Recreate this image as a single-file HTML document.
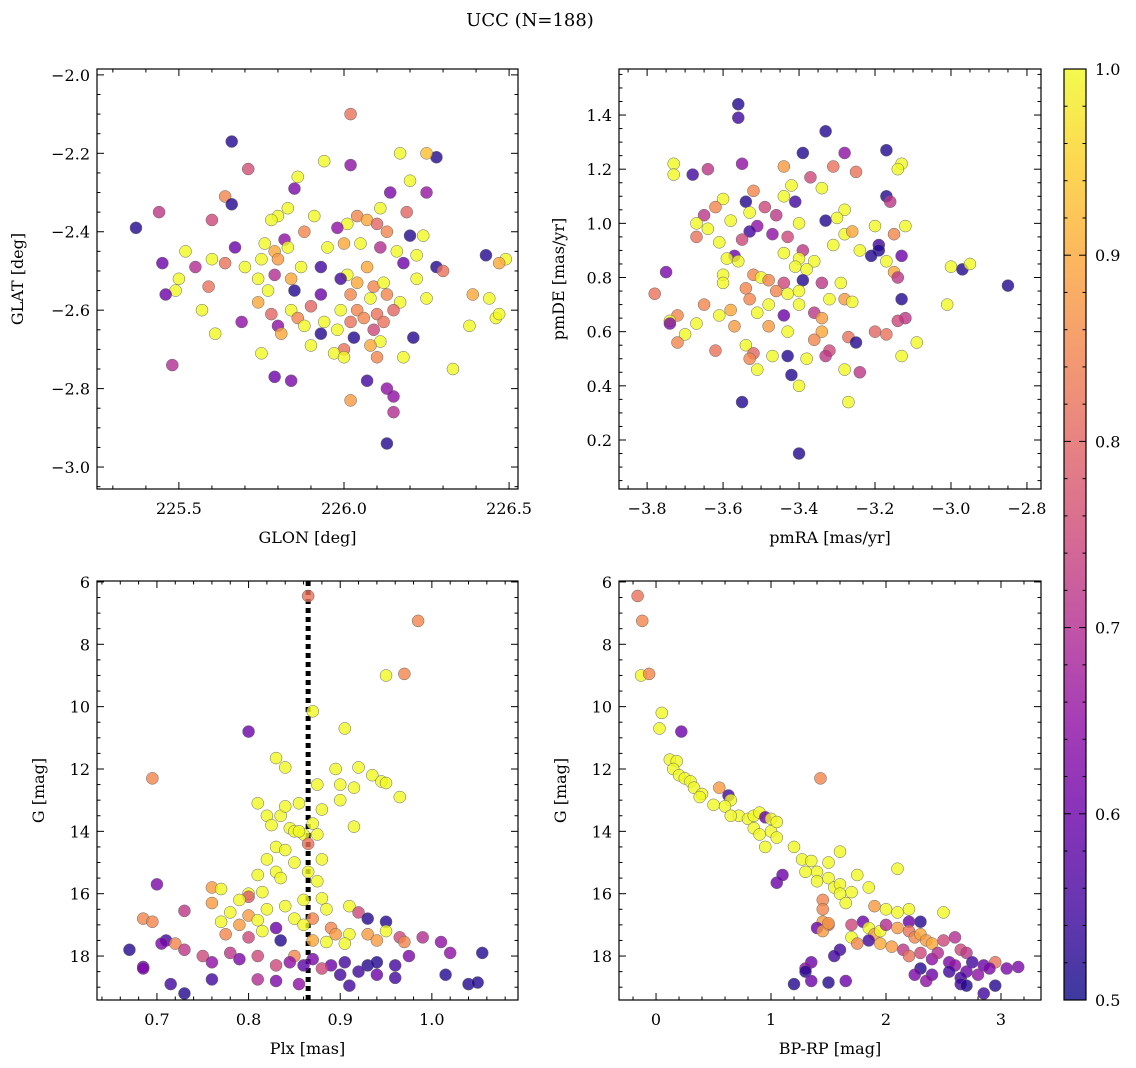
<!DOCTYPE html>
<html><head><meta charset="utf-8">
<style>
body{margin:0;background:#fff;}
svg{display:block;font-family:"DejaVu Serif","Liberation Serif",serif;}
</style></head>
<body>
<svg id="fig" width="1136" height="1068" viewBox="0 0 1136 1068" xmlns="http://www.w3.org/2000/svg">
<defs>
<linearGradient id="cbgrad" x1="0" y1="1" x2="0" y2="0">
<stop offset="0" stop-color="#0d0887"/><stop offset="0.1" stop-color="#41049d"/><stop offset="0.2" stop-color="#6a00a8"/><stop offset="0.3" stop-color="#8f0da4"/><stop offset="0.4" stop-color="#b12a90"/><stop offset="0.5" stop-color="#cc4778"/><stop offset="0.6" stop-color="#e16462"/><stop offset="0.7" stop-color="#f2844b"/><stop offset="0.8" stop-color="#fca636"/><stop offset="0.9" stop-color="#fcce25"/><stop offset="1" stop-color="#f0f921"/>
</linearGradient>
</defs>
<text x="530" y="26" font-size="18" text-anchor="middle">UCC (N=188)</text>
</svg>
<script>
// ---- data ----
const tlGlon=[226.02,225.66,226.28,226.25,226.17,225.94,226.02,225.71,225.86,226.20,225.85,226.14,226.25,225.64,225.66,225.44,225.83,225.80,225.78,225.91,226.11,226.19,225.60,225.37,226.01,226.04,226.07,226.10,225.98,226.13,226.20,226.24,225.88,225.82,225.76,225.67,225.52,225.79,225.83,225.95,226.00,226.05,226.11,226.16,226.22,226.43,226.49,226.47,225.60,225.45,225.55,225.64,225.70,225.75,225.80,225.87,225.93,226.01,226.07,226.18,226.28,226.30,225.50,225.74,225.79,225.84,225.99,226.04,226.09,226.12,226.22,225.49,225.46,225.59,225.77,225.85,225.93,226.02,226.08,226.13,226.17,226.25,226.39,226.44,225.74,225.84,225.90,225.99,226.04,226.10,226.15,225.57,225.78,225.86,225.94,226.02,226.06,226.12,226.46,226.47,225.69,225.80,225.88,225.98,226.09,226.38,225.61,225.81,225.93,226.03,226.11,226.21,225.90,226.00,226.08,225.97,226.00,226.10,226.18,225.75,225.48,226.33,225.79,225.84,226.07,226.13,226.15,226.02,226.15,226.13];
const tlGlat=[-2.10,-2.17,-2.21,-2.20,-2.20,-2.22,-2.23,-2.24,-2.26,-2.27,-2.29,-2.30,-2.30,-2.31,-2.33,-2.35,-2.34,-2.36,-2.37,-2.36,-2.34,-2.35,-2.37,-2.39,-2.38,-2.36,-2.37,-2.38,-2.39,-2.40,-2.41,-2.41,-2.40,-2.42,-2.43,-2.44,-2.45,-2.45,-2.44,-2.44,-2.43,-2.43,-2.44,-2.45,-2.46,-2.46,-2.47,-2.48,-2.47,-2.48,-2.49,-2.48,-2.49,-2.47,-2.47,-2.49,-2.49,-2.51,-2.49,-2.48,-2.49,-2.50,-2.52,-2.52,-2.51,-2.52,-2.52,-2.53,-2.54,-2.53,-2.52,-2.55,-2.56,-2.54,-2.55,-2.55,-2.56,-2.56,-2.57,-2.56,-2.58,-2.57,-2.56,-2.57,-2.58,-2.60,-2.59,-2.60,-2.60,-2.61,-2.60,-2.60,-2.61,-2.62,-2.63,-2.63,-2.62,-2.63,-2.62,-2.61,-2.63,-2.64,-2.64,-2.65,-2.65,-2.64,-2.66,-2.66,-2.66,-2.67,-2.68,-2.67,-2.69,-2.70,-2.69,-2.71,-2.72,-2.72,-2.72,-2.71,-2.74,-2.75,-2.77,-2.78,-2.78,-2.80,-2.82,-2.83,-2.86,-2.94];
const tlProb=[0.82,0.52,0.52,0.93,1,1,0.65,0.76,1,1,0.62,0.62,0.66,0.85,0.52,0.72,1,1,1,1,1,0.8,0.75,0.52,1,0.85,0.9,0.8,0.65,0.85,0.52,1,0.85,0.65,1,0.6,1,0.9,1,1,0.9,1,0.7,1,1,0.52,1,0.9,1,0.6,0.7,0.82,1,1,0.88,1,0.55,1,0.9,0.6,0.52,0.82,1,1,0.7,0.9,0.55,0.9,0.85,1,1,1,0.6,0.82,1,0.52,0.6,0.85,1,0.85,1,1,0.9,1,0.9,1,0.8,1,0.85,0.82,0.8,1,0.8,0.85,1,0.82,0.85,0.82,1,1,0.65,0.65,1,1,0.75,1,1,0.9,0.52,0.52,1,0.52,1,0.82,0.9,1,1,0.85,1,1,0.7,1,0.6,0.62,0.55,0.65,0.65,0.88,0.7,0.52];

const trPmra=[-3.56,-3.56,-3.33,-3.17,-3.28,-3.39,-3.73,-3.64,-3.55,-3.44,-3.31,-3.13,-3.14,-3.68,-3.73,-3.25,-3.37,-3.42,-3.52,-3.34,-3.17,-3.16,-3.44,-3.41,-3.60,-3.54,-3.49,-3.28,-3.62,-3.65,-3.53,-3.58,-3.46,-3.33,-3.30,-3.40,-3.67,-3.64,-3.51,-3.20,-3.12,-3.53,-3.47,-3.28,-3.15,-3.26,-3.67,-3.61,-3.55,-3.43,-3.31,-3.19,-3.19,-3.24,-3.39,-3.44,-3.57,-3.59,-3.40,-3.36,-3.21,-3.13,-3.17,-3.56,-3.41,-3.38,-3.15,-3.14,-3.75,-3.60,-3.52,-3.50,-3.48,-3.44,-3.39,-3.34,-3.29,-3.00,-2.97,-2.95,-2.85,-3.78,-3.60,-3.54,-3.46,-3.43,-3.40,-3.32,-3.28,-3.26,-3.13,-3.53,-3.48,-3.40,-3.72,-3.74,-3.74,-3.65,-3.58,-3.61,-3.51,-3.44,-3.36,-3.34,-3.14,-3.12,-3.01,-3.70,-3.67,-3.57,-3.48,-3.43,-3.34,-3.27,-3.20,-3.17,-3.09,-3.72,-3.54,-3.52,-3.36,-3.32,-3.25,-3.62,-3.53,-3.47,-3.43,-3.38,-3.33,-3.13,-3.51,-3.28,-3.24,-3.42,-3.40,-3.55,-3.27,-3.40];
const trPmde=[1.44,1.39,1.34,1.27,1.26,1.26,1.22,1.20,1.22,1.21,1.21,1.22,1.20,1.18,1.18,1.19,1.17,1.14,1.12,1.13,1.10,1.08,1.10,1.08,1.09,1.08,1.06,1.05,1.06,1.03,1.04,1.01,1.03,1.01,1.02,1.00,1.00,0.98,0.99,0.99,0.99,0.97,0.96,0.96,0.96,0.97,0.95,0.93,0.94,0.95,0.92,0.92,0.90,0.90,0.90,0.89,0.88,0.87,0.87,0.86,0.88,0.88,0.86,0.86,0.84,0.83,0.82,0.80,0.82,0.81,0.81,0.80,0.79,0.78,0.79,0.78,0.78,0.84,0.83,0.85,0.77,0.74,0.78,0.76,0.75,0.74,0.75,0.72,0.72,0.71,0.72,0.72,0.70,0.70,0.66,0.64,0.63,0.70,0.68,0.66,0.67,0.66,0.67,0.65,0.64,0.65,0.70,0.59,0.63,0.62,0.62,0.60,0.60,0.58,0.60,0.59,0.56,0.56,0.55,0.52,0.57,0.53,0.56,0.53,0.50,0.51,0.51,0.50,0.51,0.51,0.46,0.46,0.45,0.44,0.40,0.34,0.34,0.15];
const trProb=[0.52,0.55,0.52,0.52,0.65,0.52,1,0.72,0.65,0.88,0.82,1,1,0.55,1,0.82,0.75,1,0.85,1,0.52,0.72,1,0.55,1,0.52,0.75,1,0.85,0.72,1,1,0.72,0.52,1,1,1,1,0.65,1,1,0.55,0.65,1,0.85,0.9,0.82,1,0.75,0.75,1,0.55,0.52,1,0.72,1,0.6,1,1,1,0.52,0.6,1,1,1,1,0.9,0.72,0.62,1,0.85,1,0.85,0.75,0.52,0.72,1,1,0.52,1,0.52,0.82,1,0.85,0.85,1,1,1,0.88,1,0.52,0.85,1,1,0.85,1,0.62,0.85,0.9,1,1,0.6,0.72,0.88,0.75,0.72,1,1,1,0.88,0.88,1,0.9,0.82,0.8,0.82,1,0.85,1,0.8,0.85,0.75,0.52,0.82,0.85,1,0.52,1,0.72,1,1,1,0.72,0.52,1,0.52,1,0.52];

const blPlx=[0.865,0.985,0.970,0.950,0.870,0.800,0.905,0.830,0.840,0.695,0.895,0.875,0.900,0.915,0.935,0.945,0.950,0.920,0.965,0.900,0.880,0.855,0.810,0.820,0.835,0.845,0.870,0.840,0.915,0.825,0.850,0.860,0.865,0.830,0.855,0.875,0.880,0.840,0.820,0.850,0.830,0.810,0.865,0.875,0.835,0.760,0.770,0.800,0.815,0.860,0.880,0.700,0.800,0.790,0.760,0.820,0.840,0.885,0.910,0.920,0.780,0.800,0.850,0.870,0.730,0.685,0.695,0.770,0.790,0.810,0.830,0.860,0.890,0.930,0.950,0.910,0.930,0.965,0.895,0.775,0.800,0.815,0.835,0.870,0.885,0.905,0.940,0.950,0.970,0.990,1.010,0.710,0.720,0.705,0.730,0.780,0.790,0.810,0.850,0.870,0.890,0.905,0.930,0.940,0.960,0.975,1.020,1.055,0.670,0.685,0.685,0.750,0.760,0.830,0.845,0.860,0.880,0.920,0.940,0.960,1.015,0.760,0.810,0.830,0.900,0.910,0.715,0.730,1.040,1.050,0.855];
const blG=[6.45,7.25,8.95,9.0,10.15,10.8,10.7,11.65,11.95,12.3,12.0,12.5,12.5,12.6,12.2,12.4,12.45,11.95,12.9,13.0,13.3,13.1,13.1,13.5,13.5,13.9,13.75,13.2,13.85,13.8,14.0,14.1,14.4,14.5,14.0,14.1,14.9,14.6,14.9,15.0,15.3,15.4,15.3,15.6,15.5,15.8,15.85,16.0,15.95,16.2,16.15,15.7,16.1,16.2,16.3,16.5,16.4,16.5,16.4,16.6,16.6,16.7,16.8,16.8,16.55,16.8,16.9,16.9,17.0,16.85,17.1,17.0,17.1,16.8,16.9,17.3,17.3,17.4,17.3,17.3,17.4,17.2,17.5,17.5,17.55,17.6,17.5,17.2,17.55,17.4,17.55,17.5,17.6,17.6,17.8,17.9,18.1,18.0,18.0,18.1,18.3,18.2,18.3,18.2,18.3,18.0,17.9,17.9,17.8,18.35,18.4,18.0,18.2,18.3,18.2,18.3,18.4,18.5,18.6,18.7,18.6,18.75,18.75,18.8,18.6,18.95,18.9,19.2,18.9,18.85,18.9];
const blProb=[0.82,0.85,0.85,1,1,0.6,1,1,1,0.85,1,1,1,1,1,1,1,1,1,1,1,1,1,1,1,1,1,1,1,1,1,1,0.82,1,1,1,1,1,1,1,1,1,1,1,1,0.88,1,1,1,1,1,0.62,0.78,1,0.88,1,1,1,1,0.75,1,0.88,1,0.85,0.72,0.85,0.85,1,0.88,1,0.6,1,0.85,0.52,0.52,1,0.88,0.75,0.88,0.85,0.75,1,0.52,0.9,1,1,0.88,1,0.85,0.7,0.65,0.55,0.85,0.62,0.72,0.72,0.62,0.75,0.85,0.62,0.6,0.55,0.52,0.52,0.55,0.62,0.65,0.52,0.52,0.62,0.62,0.75,0.65,0.75,0.65,0.58,0.75,0.55,0.6,0.55,0.52,0.55,0.7,0.62,0.55,0.55,0.55,0.52,0.52,0.52,0.65];

const brBprp=[-0.16,-0.12,-0.13,-0.06,0.05,0.03,0.22,0.12,0.18,0.15,0.20,0.25,0.30,0.33,0.40,0.38,0.55,0.50,0.63,0.65,0.60,0.72,0.65,0.80,0.85,0.90,0.95,1.00,0.85,0.90,1.00,1.05,0.95,1.43,1.05,1.20,1.27,1.35,1.40,1.60,1.50,1.30,1.40,1.50,1.55,1.60,1.70,1.75,1.85,2.10,1.05,1.10,1.45,1.45,1.60,1.65,1.90,2.00,2.10,2.20,2.30,2.20,2.50,1.45,1.40,1.50,1.70,1.80,1.85,1.90,1.95,2.00,2.10,2.20,2.25,2.30,2.35,2.40,2.50,2.60,2.65,2.70,1.70,1.75,1.85,1.95,2.05,2.15,2.20,2.30,2.40,2.45,2.55,2.60,2.75,2.85,2.95,3.05,3.15,2.90,2.80,2.70,2.55,2.40,2.30,2.25,2.35,2.65,2.65,2.70,2.95,2.85,1.60,1.55,1.35,1.30,1.30,1.65,1.50,1.35,1.20,1.45,1.50];
const brG=[6.45,7.25,9.0,8.95,10.2,10.7,10.8,11.7,11.75,12.0,12.2,12.3,12.4,12.6,12.8,12.9,12.6,13.15,12.85,13.0,13.2,13.5,13.5,13.6,13.5,13.4,13.55,13.6,13.9,14.1,14.0,14.2,14.5,12.3,13.7,14.5,14.9,14.95,15.3,14.65,15.0,15.3,15.6,15.5,15.8,15.7,15.95,15.4,15.8,15.2,15.65,15.4,16.2,16.5,16.0,16.3,16.4,16.5,16.6,16.5,16.9,16.9,16.6,16.9,17.1,17.0,17.0,16.9,17.1,17.3,17.2,17.0,17.1,17.2,17.4,17.3,17.5,17.6,17.5,17.4,17.8,17.9,17.4,17.6,17.5,17.6,17.7,17.8,18.0,17.9,18.1,17.9,18.2,18.3,18.2,18.3,18.2,18.4,18.35,18.4,18.6,18.5,18.5,18.6,18.4,18.6,18.8,18.7,18.9,18.95,18.95,19.2,17.8,18.0,18.2,18.4,18.5,18.8,18.85,18.8,18.9,17.2,16.95];
const brProb=[0.82,0.85,1,0.85,1,1,0.6,1,1,1,1,1,1,1,1,1,0.88,1,0.55,1,1,1,1,1,1,1,0.6,1,1,1,1,1,1,0.85,1,1,1,1,1,1,1,1,1,1,1,1,1,1,1,1,0.6,0.6,0.85,0.85,1,1,0.88,1,1,1,0.52,0.6,1,0.88,0.6,0.8,0.75,0.6,1,0.88,1,0.7,0.88,0.82,0.85,0.9,0.88,0.9,0.75,0.7,0.75,0.72,1,0.85,0.55,0.9,0.88,0.72,0.82,0.75,0.65,0.7,0.62,0.65,0.55,0.6,0.82,0.62,0.62,0.62,0.65,0.6,0.55,0.6,0.52,0.62,0.65,0.55,0.55,0.52,0.52,0.55,0.55,0.55,0.6,0.65,0.52,0.6,0.52,0.6,0.52,0.88,0.88];

const cbTicks=[0.5,0.6,0.7,0.8,0.9,1.0];
const plxLine=0.865;

// ---- rendering ----
const NS="http://www.w3.org/2000/svg";
const svg=document.getElementById('fig');
function mk(tag,attrs,parent){const e=document.createElementNS(NS,tag);for(const k in attrs)e.setAttribute(k,attrs[k]);(parent||svg).appendChild(e);return e;}
const stops=["#0d0887","#41049d","#6a00a8","#8f0da4","#b12a90","#cc4778","#e16462","#f2844b","#fca636","#fcce25","#f0f921"];
function hex(h){return [parseInt(h.substr(1,2),16),parseInt(h.substr(3,2),16),parseInt(h.substr(5,2),16)];}
function cmap(p){let t=Math.max(0,Math.min(1,(p-0.5)/0.5))*10;const i=Math.min(9,Math.floor(t));const f=t-i;const a=hex(stops[i]),b=hex(stops[i+1]);return 'rgb('+a.map((v,k)=>Math.round(v+(b[k]-v)*f)).join(',')+')';}
function fmt(v,d){const s=Math.abs(v).toFixed(d);return (v<-1e-9?'\u2212':'')+s;}

function panel(cfg){
  const g=mk('g',{});
  
  
  const {x0,x1,y0,y1,xmin,xmax,ymin,ymax,invY}=cfg;
  const sx=v=>x0+(v-xmin)/(xmax-xmin)*(x1-x0);
  const sy=v=>invY? y0+(v-ymin)/(ymax-ymin)*(y1-y0) : y1-(v-ymin)/(ymax-ymin)*(y1-y0);
  const clip='clip-'+cfg.name;
  const cp=mk('clipPath',{id:clip},g);mk('rect',{x:x0,y:y0,width:x1-x0,height:y1-y0},cp);
  const pts=mk('g',{'clip-path':'url(#'+clip+')'},g);
  if(cfg.vline!==undefined){
    const l=mk('line',{x1:sx(cfg.vline),x2:sx(cfg.vline),y1:y0,y2:y1,stroke:'#000','stroke-width':5,'stroke-dasharray':'5,4'},pts);
    
    
  }
  for(let i=0;i<cfg.xs.length;i++){
    const c=mk('circle',{cx:sx(cfg.xs[i]),cy:sy(cfg.ys[i]),r:6,fill:cmap(cfg.ps[i]),'fill-opacity':0.8,stroke:'#666','stroke-width':0.5},pts);
    
    
  }
  mk('rect',{x:x0,y:y0,width:x1-x0,height:y1-y0,fill:'none',stroke:'#000','stroke-width':1.2},g);
  const eps=1e-9;
  for(let v=Math.ceil(xmin/cfg.xmin_step-eps)*cfg.xmin_step;v<=xmax+eps;v+=cfg.xmin_step){
    const X=sx(v);const major=Math.abs(v/cfg.xstep-Math.round(v/cfg.xstep))<1e-6;const L=major?7:3.5;
    mk('line',{x1:X,x2:X,y1:y1,y2:y1-L,stroke:'#000','stroke-width':1},g);
    mk('line',{x1:X,x2:X,y1:y0,y2:y0+L,stroke:'#000','stroke-width':1},g);
    if(major){const t=mk('text',{x:X,y:y1+25,'font-size':16,'text-anchor':'middle'},g);t.textContent=fmt(v,cfg.xd);
      }
  }
  for(let v=Math.ceil(ymin/cfg.ymin_step-eps)*cfg.ymin_step;v<=ymax+eps;v+=cfg.ymin_step){
    const Y=sy(v);const major=Math.abs(v/cfg.ystep-Math.round(v/cfg.ystep))<1e-6;const L=major?7:3.5;
    mk('line',{x1:x0,x2:x0+L,y1:Y,y2:Y,stroke:'#000','stroke-width':1},g);
    mk('line',{x1:x1,x2:x1-L,y1:Y,y2:Y,stroke:'#000','stroke-width':1},g);
    if(major){const t=mk('text',{x:x0-7,y:Y+6,'font-size':16,'text-anchor':'end'},g);t.textContent=fmt(v,cfg.yd);
      }
  }
  const xl=mk('text',{x:(x0+x1)/2,y:y1+54,'font-size':16,'text-anchor':'middle'},g);xl.textContent=cfg.xlabel;
  
  const yx=cfg.ylx, yy=(y0+y1)/2;
  const yl=mk('text',{x:yx,y:yy,'font-size':16,'text-anchor':'middle',transform:'rotate(-90 '+yx+' '+yy+')'},g);yl.textContent=cfg.ylabel;
  
}

panel({name:'glon-glat-panel',x0:97,x1:518,y0:69,y1:489,xmin:225.252,xmax:226.527,ymin:-3.056,ymax:-1.985,xstep:0.5,xmin_step:0.1,ystep:0.2,ymin_step:0.05,xd:1,yd:1,xs:tlGlon,ys:tlGlat,ps:tlProb,xlabel:'GLON [deg]',ylabel:'GLAT [deg]',ylx:23});
panel({name:'proper-motion-panel',x0:619,x1:1041,y0:69,y1:489,xmin:-3.874,xmax:-2.763,ymin:0.019,ymax:1.570,xstep:0.2,xmin_step:0.05,ystep:0.2,ymin_step:0.05,xd:1,yd:1,xs:trPmra,ys:trPmde,ps:trProb,xlabel:'pmRA [mas/yr]',ylabel:'pmDE [mas/yr]',ylx:564});
panel({name:'parallax-magnitude-panel',x0:97,x1:518,y0:581,y1:1000,xmin:0.6346,xmax:1.094,ymin:5.97,ymax:19.41,invY:true,xstep:0.1,xmin_step:0.02,ystep:2,ymin_step:0.5,xd:1,yd:0,xs:blPlx,ys:blG,ps:blProb,vline:plxLine,xlabel:'Plx [mas]',ylabel:'G [mag]',ylx:44});
panel({name:'color-magnitude-panel',x0:619,x1:1041,y0:581,y1:1000,xmin:-0.322,xmax:3.348,ymin:5.97,ymax:19.41,invY:true,xstep:1,xmin_step:0.2,ystep:2,ymin_step:0.5,xd:0,yd:0,xs:brBprp,ys:brG,ps:brProb,xlabel:'BP-RP [mag]',ylabel:'G [mag]',ylx:566});

const cb=mk('g',{});


const cbx0=1064,cbx1=1086,cby0=69,cby1=1000;
mk('rect',{x:cbx0,y:cby0,width:cbx1-cbx0,height:cby1-cby0,fill:'url(#cbgrad)','fill-opacity':0.8},cb);
mk('rect',{x:cbx0,y:cby0,width:cbx1-cbx0,height:cby1-cby0,fill:'none',stroke:'#000','stroke-width':1.2},cb);
const cy=v=>cby1-(v-0.5)/0.5*(cby1-cby0);
for(let k=0;k<=25;k++){const v=0.5+k*0.02;const Y=cy(v);const major=k%5===0;
  mk('line',{x1:cbx1,x2:cbx1-(major?7:3.5),y1:Y,y2:Y,stroke:'#000','stroke-width':1},cb);
  mk('line',{x1:cbx0,x2:cbx0+(major?7:3.5),y1:Y,y2:Y,stroke:'#000','stroke-width':1},cb);}
cbTicks.forEach(v=>{const t=mk('text',{x:cbx1+9,y:cy(v)+6,'font-size':16},cb);t.textContent=v.toFixed(1);
  
  });
</script>
</body></html>
